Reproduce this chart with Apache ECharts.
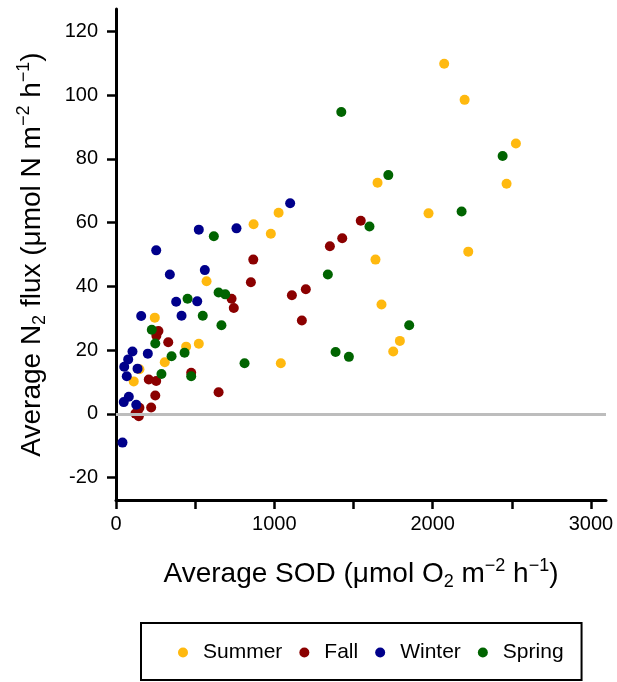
<!DOCTYPE html>
<html>
<head>
<meta charset="utf-8">
<title>N2 flux vs SOD</title>
<script src="https://cdn.jsdelivr.net/npm/echarts@6/dist/echarts.min.js"></script>
<style>
    html, body { margin: 0; padding: 0; background: #fff; }
    .chart { width: 617px; height: 682px; }
</style>
</head>
<body>
<div class="chart"></div>
<script>
// 数据: [SOD, N2 flux]
var seasons = ["Summer", "Fall", "Winter", "Spring"];
var seasonColors = ["#FFB90F", "#8B0000", "#00008B", "#006400"];

var summerData = [
    [2073, 109.8], [2202, 98.5], [2526, 84.8], [2467, 72.2], [1652, 72.5],
    [1974, 62.9], [2225, 50.9], [1639, 48.4], [1677, 34.3], [1793, 22.9],
    [1751, 19.6], [1027, 63.1], [869, 59.5], [978, 56.5], [572, 41.6],
    [245, 30.2], [443, 21.1], [523, 22.0], [308, 16.2], [148, 14.0],
    [112, 10.2], [1041, 15.9]
];
var fallData = [
    [1546, 60.6], [1429, 55.1], [1351, 52.6], [1199, 39.1], [1111, 37.2],
    [1174, 29.3], [867, 48.4], [852, 41.3], [730, 36.1], [744, 33.2],
    [268, 26.0], [255, 24.5], [330, 22.5], [475, 12.9], [207, 10.8],
    [254, 10.3], [248, 5.8], [222, 2.0], [148, 1.9], [123, 0.1],
    [144, -0.7], [648, 6.8]
];
var winterData = [
    [1100, 66.1], [523, 57.8], [761, 58.2], [254, 51.3], [340, 43.7],
    [561, 45.1], [380, 35.2], [513, 35.3], [414, 30.8], [159, 30.7],
    [104, 19.6], [77, 17.1], [52, 14.8], [68, 11.8], [136, 14.2],
    [201, 18.9], [81, 5.4], [49, 3.7], [128, 2.9], [41, -9.0]
];
var springData = [
    [1423, 94.7], [2442, 80.9], [1720, 74.9], [2183, 63.5], [1601, 58.8],
    [1338, 43.7], [1852, 27.8], [1387, 19.4], [1471, 17.9], [618, 55.7],
    [452, 36.1], [648, 38.1], [690, 37.5], [548, 30.8], [666, 27.8],
    [226, 26.4], [248, 22.1], [351, 18.1], [433, 19.2], [287, 12.5],
    [475, 11.8], [812, 15.9]
];

// 刻度
var xTicks = [0, 500, 1000, 1500, 2000, 2500, 3000];
var xLabels = [0, 1000, 2000, 3000];
var yTicks = [-20, 0, 20, 40, 60, 80, 100, 120];

window.onload = function () {
    var myChart = echarts.init(document.querySelector(".chart"));
    var font = "Liberation Sans";

    // 标题里的上下标
    var titleRich = {
        base: { fontSize: 28, fontFamily: font, color: "#000", lineHeight: 34 },
        sub: { fontSize: 18, fontFamily: font, color: "#000", lineHeight: 18, verticalAlign: "bottom" },
        sup: { fontSize: 18, fontFamily: font, color: "#000", lineHeight: 18, verticalAlign: "top" }
    };

    var allData = [summerData, fallData, winterData, springData];
    var series = allData.map(function (d, i) {
        return {
            name: seasons[i],
            type: "scatter",
            symbol: "circle",
            symbolSize: 10,
            itemStyle: { color: seasonColors[i], opacity: 1 },
            z: 3,
            data: d
        };
    });

    // y=0 灰线
    series.push({
        name: "zero",
        type: "line",
        data: [],
        z: 1,
        silent: true,
        markLine: {
            silent: true,
            symbol: "none",
            label: { show: false },
            lineStyle: { color: "#BDBDBD", width: 3, type: "solid" },
            data: [{ yAxis: 0 }]
        }
    });

    var option = {
        backgroundColor: "#fff",
        animation: false,
        grid: {
            left: 116,
            right: 11,
            top: 9,
            bottom: 182
        },
        legend: {
            data: seasons,
            left: 141,
            top: 623,
            orient: "horizontal",
            icon: "circle",
            itemWidth: 30,
            itemHeight: 10,
            itemGap: 17,
            padding: [19, 18, 17, 37],
            borderColor: "#000",
            borderWidth: 2,
            textStyle: { color: "#000", fontSize: 21, fontFamily: font }
        },
        xAxis: {
            type: "value",
            min: 0,
            max: 3095,
            name: "{base|Average SOD (μmol O}{sub|2}{base| m}{sup|−2}{base| h}{sup|−1}{base|)}",
            nameLocation: "middle",
            nameGap: 57,
            nameTextStyle: { rich: titleRich },
            axisLine: { show: true, onZero: false, lineStyle: { color: "#000", width: 3 } },
            axisTick: {
                show: true,
                length: 9,
                customValues: xTicks,
                lineStyle: { color: "#000", width: 2.5 }
            },
            axisLabel: {
                customValues: xLabels,
                formatter: function (v) { return String(v); },
                margin: 14,
                color: "#000",
                fontSize: 20,
                fontFamily: font
            },
            splitLine: { show: false }
        },
        yAxis: {
            type: "value",
            min: -27,
            max: 127,
            name: "{base|Average N}{sub|2}{base| flux (μmol N m}{sup|−2}{base| h}{sup|−1}{base|)}",
            nameLocation: "middle",
            nameGap: 67,
            nameTextStyle: { rich: titleRich },
            axisLine: { show: true, onZero: false, lineStyle: { color: "#000", width: 3 } },
            axisTick: {
                show: true,
                length: 9,
                customValues: yTicks,
                lineStyle: { color: "#000", width: 2.5 }
            },
            axisLabel: {
                customValues: yTicks,
                margin: 18,
                color: "#000",
                fontSize: 20,
                fontFamily: font
            },
            splitLine: { show: false }
        },
        series: series
    };

    myChart.setOption(option);
    window.addEventListener("resize", function () {
        myChart.resize();
    });
};
</script>
</body>
</html>
